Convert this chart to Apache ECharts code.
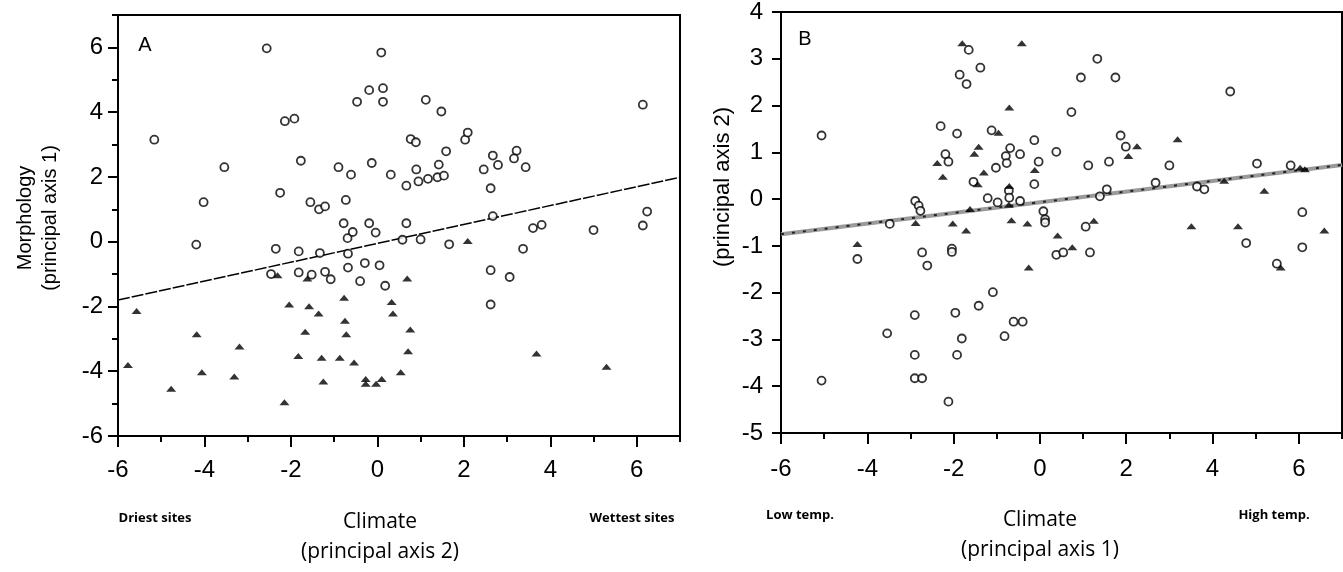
<!DOCTYPE html>
<html>
<head>
<meta charset="utf-8">
<script src="https://cdn.jsdelivr.net/npm/echarts@6/dist/echarts.min.js"></script>
<style>
  html, body { margin: 0; padding: 0; background: #fff; }
  #main { width: 1343px; height: 572px; }
</style>
</head>
<body>
<div id="main"></div>
<script>
// panel A: climate (principal axis 2) vs morphology (principal axis 1)
const aCircles = [
  [-2.56, 5.97], [0.09, 5.84], [-0.19, 4.68], [0.13, 4.74], [-0.47, 4.32], [0.13, 4.32],
  [-2.14, 3.72], [-1.92, 3.8], [-5.16, 3.15], [-3.54, 2.3], [-1.77, 2.5], [-0.9, 2.3],
  [-0.61, 2.07], [-0.13, 2.43], [0.31, 2.07], [-4.02, 1.22], [-2.25, 1.51], [-1.55, 1.22],
  [-1.35, 1.0], [-1.21, 1.09], [-0.73, 1.29], [-0.78, 0.57], [-0.19, 0.57], [-0.04, 0.28],
  [-0.69, 0.11], [-0.57, 0.3], [-4.19, -0.09], [-2.35, -0.22], [-1.82, -0.3], [-1.33, -0.35],
  [-0.68, -0.37], [-0.68, -0.8], [-0.29, -0.66], [0.05, -0.73], [-2.46, -1.0], [-1.82, -0.95],
  [-1.52, -1.02], [-1.21, -0.93], [-1.08, -1.16], [-0.4, -1.22], [0.18, -1.36],
  [2.62, -0.88], [3.06, -1.09], [2.62, -1.94],
  [1.12, 4.38], [1.48, 4.02], [6.14, 4.23], [0.77, 3.17], [0.89, 3.07], [2.03, 3.15],
  [2.09, 3.37], [1.59, 2.79], [0.9, 2.23], [1.42, 2.38], [0.67, 1.73], [0.95, 1.86],
  [1.17, 1.94], [1.39, 1.99], [1.54, 2.04], [2.46, 2.23], [2.67, 2.66], [2.79, 2.37],
  [3.22, 2.81], [3.16, 2.57], [3.43, 2.3], [2.62, 1.65], [0.67, 0.57], [2.67, 0.79],
  [3.6, 0.42], [3.8, 0.52], [5.0, 0.36], [6.14, 0.5], [6.24, 0.93], [0.58, 0.06],
  [1.0, 0.07], [1.66, -0.08], [3.37, -0.22]
];
const aTriangles = [
  [-2.31, -1.04], [-1.62, -1.14], [-2.04, -1.94], [-1.58, -1.99], [-1.36, -2.22], [-0.77, -1.73],
  [-0.75, -2.44], [-0.72, -2.86], [-1.67, -2.78], [-5.57, -2.14], [-4.18, -2.86], [-3.19, -3.24],
  [-5.77, -3.81], [-4.06, -4.03], [-3.31, -4.16], [-4.77, -4.54], [-1.83, -3.53], [-1.29, -3.58],
  [-0.87, -3.58], [-0.54, -3.73], [-1.25, -4.32], [-2.15, -4.96], [-0.27, -4.24], [-0.27, -4.39],
  [0.1, -4.24], [-0.03, -4.39], [0.33, -1.86], [0.36, -2.22], [0.69, -1.14], [0.76, -2.71],
  [0.71, -3.38], [0.54, -4.03], [3.68, -3.45], [5.3, -3.86], [2.09, 0.02]
];
const aLine = [[-6, -1.8], [7, 1.99]];

// panel B: climate (principal axis 1) vs principal axis 2
const bCircles = [
  [-1.65, 3.19], [-1.38, 2.81], [-1.86, 2.66], [-1.7, 2.46], [-5.06, 1.36], [-2.3, 1.56],
  [-1.92, 1.4], [-1.12, 1.47], [-0.13, 1.26], [0.38, 1.01], [-2.19, 0.96], [-2.12, 0.8],
  [-0.69, 1.09], [-0.79, 0.92], [-0.77, 0.77], [-0.46, 0.96], [-1.02, 0.67], [-0.03, 0.8],
  [-0.13, 0.32], [-1.54, 0.37], [-0.72, 0.18], [-0.71, 0.03], [-0.46, -0.04], [-2.89, -0.04],
  [-2.81, -0.14], [-2.77, -0.25], [-1.21, 0.02], [-0.98, -0.07], [-3.48, -0.53], [0.08, -0.26],
  [0.12, -0.43], [0.12, -0.5], [-4.23, -1.28], [-2.73, -1.14], [-2.04, -1.06], [-2.04, -1.13],
  [-2.61, -1.42], [0.38, -1.19],
  [1.33, 3.0], [0.95, 2.6], [1.75, 2.6], [4.41, 2.3], [0.73, 1.86], [1.87, 1.36],
  [1.99, 1.12], [1.12, 0.72], [1.6, 0.8], [3.0, 0.72], [5.03, 0.76], [5.81, 0.72],
  [2.68, 0.35], [3.64, 0.27], [3.81, 0.21], [1.55, 0.21], [1.39, 0.06], [1.06, -0.59],
  [0.54, -1.14], [1.16, -1.14], [6.08, -0.28], [4.78, -0.94], [6.08, -1.03], [5.49, -1.38],
  [-1.09, -1.99], [-1.42, -2.28], [-2.9, -2.48], [-1.96, -2.43], [-0.61, -2.62], [-0.4, -2.62],
  [-3.54, -2.87], [-1.81, -2.98], [-0.82, -2.93], [-2.9, -3.33], [-1.92, -3.33], [-2.9, -3.83],
  [-2.73, -3.83], [-5.06, -3.88], [-2.12, -4.33]
];
const bTriangles = [
  [-1.8, 3.33], [-0.42, 3.33], [-0.71, 1.96], [-0.96, 1.42], [-1.42, 1.12], [-1.52, 0.97],
  [-2.38, 0.77], [-0.12, 0.62], [-2.25, 0.48], [-1.3, 0.57], [-1.44, 0.32], [-0.71, 0.28],
  [-0.72, -0.12], [-1.62, -0.21], [-2.88, -0.51], [-2.02, -0.52], [-1.71, -0.67], [-0.66, -0.45],
  [-0.29, -0.52], [-4.23, -0.96], [-0.26, -1.46], [0.41, -0.78],
  [2.25, 1.13], [2.05, 0.92], [3.19, 1.28], [6.03, 0.67], [6.14, 0.64], [4.27, 0.39],
  [5.2, 0.18], [1.25, -0.46], [0.75, -1.03], [3.51, -0.58], [4.59, -0.58], [6.59, -0.67],
  [5.58, -1.46]
];
const bLine = [[-6, -0.75], [7, 0.73]];

const numFont = '"Liberation Sans", Arial, sans-serif';
const textFont = '"Open Sans", sans-serif';

// 主刻度(带标签)
function majorAxis(grid, pos, min, max, interval, tickLen, margin) {
  return {
    type: 'value', gridIndex: grid, position: pos, min: min, max: max, interval: interval,
    axisLine: { show: true, onZero: false, lineStyle: { color: '#000', width: 2 } },
    axisTick: { show: true, length: tickLen, lineStyle: { color: '#000', width: 2 } },
    axisLabel: {
      show: true, color: '#000', fontSize: 24, fontFamily: numFont,
      margin: margin, showMaxLabel: max % interval === 0
    },
    splitLine: { show: false }
  };
}
// 次刻度(无标签)
function minorAxis(grid, pos, min, max) {
  return {
    type: 'value', gridIndex: grid, position: pos, min: min, max: max, interval: 1,
    axisLine: { show: false, onZero: false },
    axisTick: { show: true, length: 6, lineStyle: { color: '#000', width: 2 } },
    axisLabel: { show: false },
    splitLine: { show: false }
  };
}

const circleStyle = { color: '#fff', borderColor: '#000', borderWidth: 1.8 };
const triStyle = { color: '#000' };

function text(str, x, y, font, rotate) {
  return {
    type: 'text', x: x, y: y, rotation: rotate ? Math.PI / 2 : 0,
    style: { text: str, fill: '#000', font: font, textAlign: 'center', textVerticalAlign: 'middle' }
  };
}

const chart = echarts.init(document.getElementById('main'), null, { renderer: 'canvas' });
chart.setOption({
  animation: false,
  backgroundColor: '#fff',
  grid: [
    { left: 118, top: 15, width: 562, height: 421, show: true, borderColor: '#000', borderWidth: 2 },
    { left: 781, top: 10, width: 561, height: 423, show: true, borderColor: '#000', borderWidth: 2 }
  ],
  xAxis: [
    majorAxis(0, 'bottom', -6, 7, 2, 11, 22),
    minorAxis(0, 'bottom', -6, 7),
    majorAxis(1, 'bottom', -6, 7, 2, 11, 24),
    minorAxis(1, 'bottom', -6, 7)
  ],
  yAxis: [
    majorAxis(0, 'left', -6, 7, 2, 10, 15),
    minorAxis(0, 'left', -6, 7),
    majorAxis(1, 'left', -5, 4, 1, 9, 18)
  ],
  series: [
    {
      type: 'line', xAxisIndex: 0, yAxisIndex: 0, data: aLine, symbol: 'none', z: 1,
      lineStyle: { color: '#000', width: 1.5, type: [12, 2] }
    },
    {
      type: 'scatter', xAxisIndex: 0, yAxisIndex: 0, data: aCircles,
      symbol: 'circle', symbolSize: 8, itemStyle: circleStyle, z: 3
    },
    {
      type: 'scatter', xAxisIndex: 0, yAxisIndex: 0, data: aTriangles,
      symbol: 'triangle', symbolSize: [10, 6], itemStyle: triStyle, z: 3
    },
    {
      type: 'line', xAxisIndex: 2, yAxisIndex: 2, data: bLine, symbol: 'none', z: 1,
      lineStyle: { color: '#9a9a9a', width: 4 }
    },
    {
      type: 'line', xAxisIndex: 2, yAxisIndex: 2, data: bLine, symbol: 'none', z: 2,
      lineStyle: { color: '#222', width: 2, type: [3, 8] }
    },
    {
      type: 'scatter', xAxisIndex: 2, yAxisIndex: 2, data: bCircles,
      symbol: 'circle', symbolSize: 8, itemStyle: circleStyle, z: 3
    },
    {
      type: 'scatter', xAxisIndex: 2, yAxisIndex: 2, data: bTriangles,
      symbol: 'triangle', symbolSize: [10, 6], itemStyle: triStyle, z: 3
    }
  ],
  graphic: [
    text('A', 145, 45, '20px ' + numFont),
    text('B', 805, 39, '20px ' + numFont),
    text('Morphology', 25, 218, '20px ' + numFont, true),
    text('(principal axis 1)', 50, 218, '20px ' + numFont, true),
    text('(principal axis 2)', 723, 187, '22px ' + numFont, true),
    text('Driest sites', 155, 518, 'bold 13px ' + textFont),
    text('Wettest sites', 632, 518, 'bold 13px ' + textFont),
    text('Low temp.', 800, 515, 'bold 13px ' + textFont),
    text('High temp.', 1274, 515, 'bold 13px ' + textFont),
    text('Climate', 380, 522, '21px ' + textFont),
    text('(principal axis 2)', 380, 552, '21px ' + textFont),
    text('Climate', 1040, 520, '21px ' + textFont),
    text('(principal axis 1)', 1040, 550, '21px ' + textFont)
  ]
});
</script>
</body>
</html>
